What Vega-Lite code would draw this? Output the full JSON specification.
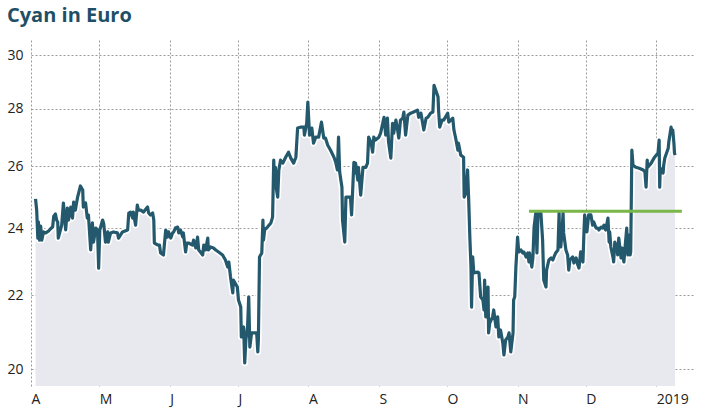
{
  "$schema": "https://vega.github.io/schema/vega-lite/v6.json",
  "width": 663,
  "height": 346,
  "padding": {"left": 6, "top": 6, "right": 10, "bottom": 4},
  "title": {"text": "Cyan in Euro", "anchor": "start", "frame": "bounds", "font": "Open Sans", "fontSize": 20, "fontWeight": "bold", "color": "#1f4f66", "offset": 14, "baseline": "top"},
  "config": {"view": {"stroke": null}, "font": "Open Sans"},
  "datasets": {
    "price": [
      {"t": "2018-04-03T00:00", "v": 24.92}, {"t": "2018-04-03T12:00", "v": 24.56}, {"t": "2018-04-04T00:00", "v": 23.69}, {"t": "2018-04-04T06:00", "v": 24.19},
      {"t": "2018-04-04T18:00", "v": 23.63}, {"t": "2018-04-05T06:00", "v": 24.06}, {"t": "2018-04-05T18:00", "v": 23.63}, {"t": "2018-04-06T12:00", "v": 23.88},
      {"t": "2018-04-07T12:00", "v": 23.85}, {"t": "2018-04-08T18:00", "v": 23.91}, {"t": "2018-04-09T12:00", "v": 23.97}, {"t": "2018-04-10T12:00", "v": 24.03},
      {"t": "2018-04-11T00:00", "v": 24.37}, {"t": "2018-04-11T18:00", "v": 24.44}, {"t": "2018-04-12T06:00", "v": 24.25}, {"t": "2018-04-12T18:00", "v": 24.19},
      {"t": "2018-04-13T00:00", "v": 23.69}, {"t": "2018-04-14T12:00", "v": 24.09}, {"t": "2018-04-15T06:00", "v": 24.79}, {"t": "2018-04-16T06:00", "v": 23.94},
      {"t": "2018-04-17T00:00", "v": 24.63}, {"t": "2018-04-17T12:00", "v": 24.25}, {"t": "2018-04-18T12:00", "v": 24.66}, {"t": "2018-04-19T06:00", "v": 24.31},
      {"t": "2018-04-19T18:00", "v": 24.82}, {"t": "2018-04-20T12:00", "v": 24.56}, {"t": "2018-04-21T12:00", "v": 24.98}, {"t": "2018-04-22T18:00", "v": 25.34},
      {"t": "2018-04-23T18:00", "v": 25.21}, {"t": "2018-04-24T00:00", "v": 24.66}, {"t": "2018-04-25T00:00", "v": 24.79}, {"t": "2018-04-25T18:00", "v": 24.31},
      {"t": "2018-04-26T06:00", "v": 24.41}, {"t": "2018-04-27T06:00", "v": 23.33}, {"t": "2018-04-28T00:00", "v": 24.16}, {"t": "2018-04-28T12:00", "v": 23.57},
      {"t": "2018-04-29T12:00", "v": 24.00}, {"t": "2018-04-30T06:00", "v": 23.94}, {"t": "2018-04-30T18:00", "v": 22.79}, {"t": "2018-05-01T06:00", "v": 23.94},
      {"t": "2018-05-02T12:00", "v": 24.25}, {"t": "2018-05-03T00:00", "v": 24.13}, {"t": "2018-05-03T18:00", "v": 23.57}, {"t": "2018-05-04T18:00", "v": 23.88},
      {"t": "2018-05-05T00:00", "v": 23.57}, {"t": "2018-05-06T00:00", "v": 23.85}, {"t": "2018-05-07T06:00", "v": 23.88}, {"t": "2018-05-09T00:00", "v": 23.85},
      {"t": "2018-05-09T12:00", "v": 23.69}, {"t": "2018-05-11T06:00", "v": 23.88}, {"t": "2018-05-13T12:00", "v": 23.94}, {"t": "2018-05-14T00:00", "v": 24.47},
      {"t": "2018-05-14T18:00", "v": 24.50}, {"t": "2018-05-15T18:00", "v": 24.31}, {"t": "2018-05-16T00:00", "v": 24.50}, {"t": "2018-05-17T00:00", "v": 24.09},
      {"t": "2018-05-17T18:00", "v": 24.72}, {"t": "2018-05-18T06:00", "v": 24.56}, {"t": "2018-05-19T06:00", "v": 24.56}, {"t": "2018-05-20T12:00", "v": 24.50},
      {"t": "2018-05-22T06:00", "v": 24.66}, {"t": "2018-05-22T18:00", "v": 24.47}, {"t": "2018-05-23T12:00", "v": 24.41}, {"t": "2018-05-24T12:00", "v": 24.47},
      {"t": "2018-05-25T00:00", "v": 24.25}, {"t": "2018-05-25T06:00", "v": 23.54}, {"t": "2018-05-26T18:00", "v": 23.48}, {"t": "2018-05-27T12:00", "v": 23.48},
      {"t": "2018-05-28T00:00", "v": 23.24}, {"t": "2018-05-29T06:00", "v": 23.18}, {"t": "2018-05-30T06:00", "v": 23.94}, {"t": "2018-05-31T00:00", "v": 23.72},
      {"t": "2018-05-31T12:00", "v": 23.88}, {"t": "2018-06-01T12:00", "v": 23.69}, {"t": "2018-06-02T06:00", "v": 23.85}, {"t": "2018-06-02T18:00", "v": 23.88},
      {"t": "2018-06-03T12:00", "v": 24.00}, {"t": "2018-06-04T12:00", "v": 24.03}, {"t": "2018-06-05T00:00", "v": 23.85}, {"t": "2018-06-05T18:00", "v": 23.94},
      {"t": "2018-06-06T18:00", "v": 23.72}, {"t": "2018-06-07T00:00", "v": 23.85}, {"t": "2018-06-08T00:00", "v": 23.27}, {"t": "2018-06-08T12:00", "v": 23.54},
      {"t": "2018-06-09T06:00", "v": 23.54}, {"t": "2018-06-11T00:00", "v": 23.48}, {"t": "2018-06-11T12:00", "v": 23.63}, {"t": "2018-06-12T12:00", "v": 23.39},
      {"t": "2018-06-13T06:00", "v": 23.72}, {"t": "2018-06-13T18:00", "v": 23.33}, {"t": "2018-06-14T12:00", "v": 23.27}, {"t": "2018-06-15T12:00", "v": 23.18},
      {"t": "2018-06-16T00:00", "v": 23.48}, {"t": "2018-06-16T18:00", "v": 23.33}, {"t": "2018-06-17T18:00", "v": 23.69}, {"t": "2018-06-18T00:00", "v": 23.33},
      {"t": "2018-06-19T00:00", "v": 23.42}, {"t": "2018-06-20T06:00", "v": 23.39}, {"t": "2018-06-21T06:00", "v": 23.33}, {"t": "2018-06-22T12:00", "v": 23.27},
      {"t": "2018-06-24T06:00", "v": 23.18}, {"t": "2018-06-25T12:00", "v": 23.03}, {"t": "2018-06-26T12:00", "v": 22.82}, {"t": "2018-06-27T00:00", "v": 22.97},
      {"t": "2018-06-27T18:00", "v": 22.53}, {"t": "2018-06-28T18:00", "v": 22.07}, {"t": "2018-06-29T00:00", "v": 22.44}, {"t": "2018-06-30T18:00", "v": 22.24},
      {"t": "2018-07-01T06:00", "v": 21.87}, {"t": "2018-07-02T06:00", "v": 21.67}, {"t": "2018-07-02T12:00", "v": 20.85}, {"t": "2018-07-03T12:00", "v": 21.12},
      {"t": "2018-07-04T00:00", "v": 20.16}, {"t": "2018-07-04T12:00", "v": 20.77}, {"t": "2018-07-05T06:00", "v": 21.12}, {"t": "2018-07-05T18:00", "v": 21.96},
      {"t": "2018-07-06T06:00", "v": 20.58}, {"t": "2018-07-07T00:00", "v": 20.96}, {"t": "2018-07-08T00:00", "v": 20.96}, {"t": "2018-07-09T06:00", "v": 20.96},
      {"t": "2018-07-09T18:00", "v": 20.45}, {"t": "2018-07-10T00:00", "v": 20.77}, {"t": "2018-07-10T12:00", "v": 23.12}, {"t": "2018-07-11T12:00", "v": 23.24},
      {"t": "2018-07-12T00:00", "v": 24.25}, {"t": "2018-07-12T06:00", "v": 23.63}, {"t": "2018-07-12T18:00", "v": 23.94}, {"t": "2018-07-14T00:00", "v": 24.03},
      {"t": "2018-07-15T12:00", "v": 24.16}, {"t": "2018-07-16T06:00", "v": 24.34}, {"t": "2018-07-16T18:00", "v": 26.20}, {"t": "2018-07-17T06:00", "v": 25.30},
      {"t": "2018-07-17T12:00", "v": 25.96}, {"t": "2018-07-18T00:00", "v": 25.21}, {"t": "2018-07-18T12:00", "v": 24.98}, {"t": "2018-07-19T00:00", "v": 25.87},
      {"t": "2018-07-19T18:00", "v": 26.20}, {"t": "2018-07-20T18:00", "v": 26.10}, {"t": "2018-07-22T00:00", "v": 26.30}, {"t": "2018-07-23T06:00", "v": 26.47},
      {"t": "2018-07-24T06:00", "v": 26.27}, {"t": "2018-07-25T12:00", "v": 26.10}, {"t": "2018-07-26T12:00", "v": 26.30}, {"t": "2018-07-27T06:00", "v": 27.31},
      {"t": "2018-07-28T12:00", "v": 27.34}, {"t": "2018-07-30T00:00", "v": 27.34}, {"t": "2018-07-30T06:00", "v": 27.06}, {"t": "2018-07-31T06:00", "v": 27.48},
      {"t": "2018-07-31T18:00", "v": 28.24}, {"t": "2018-08-01T12:00", "v": 27.06}, {"t": "2018-08-02T12:00", "v": 27.31}, {"t": "2018-08-03T06:00", "v": 26.78},
      {"t": "2018-08-04T06:00", "v": 26.99}, {"t": "2018-08-05T12:00", "v": 26.99}, {"t": "2018-08-06T18:00", "v": 27.52}, {"t": "2018-08-07T18:00", "v": 26.96},
      {"t": "2018-08-08T12:00", "v": 26.96}, {"t": "2018-08-09T12:00", "v": 26.71}, {"t": "2018-08-10T18:00", "v": 26.54}, {"t": "2018-08-12T06:00", "v": 26.30},
      {"t": "2018-08-13T00:00", "v": 26.13}, {"t": "2018-08-13T18:00", "v": 25.87}, {"t": "2018-08-14T06:00", "v": 26.99}, {"t": "2018-08-14T18:00", "v": 25.80},
      {"t": "2018-08-15T18:00", "v": 25.30}, {"t": "2018-08-16T00:00", "v": 24.25}, {"t": "2018-08-17T00:00", "v": 23.57}, {"t": "2018-08-17T12:00", "v": 24.98},
      {"t": "2018-08-18T18:00", "v": 24.98}, {"t": "2018-08-19T12:00", "v": 24.98}, {"t": "2018-08-20T00:00", "v": 24.41}, {"t": "2018-08-21T00:00", "v": 26.13},
      {"t": "2018-08-21T06:00", "v": 25.77}, {"t": "2018-08-21T18:00", "v": 26.10}, {"t": "2018-08-22T18:00", "v": 25.53}, {"t": "2018-08-23T00:00", "v": 25.96},
      {"t": "2018-08-24T00:00", "v": 25.04}, {"t": "2018-08-25T00:00", "v": 25.96}, {"t": "2018-08-26T06:00", "v": 25.96}, {"t": "2018-08-27T00:00", "v": 26.10},
      {"t": "2018-08-27T12:00", "v": 26.99}, {"t": "2018-08-28T12:00", "v": 26.82}, {"t": "2018-08-29T06:00", "v": 26.47}, {"t": "2018-08-29T18:00", "v": 26.99},
      {"t": "2018-08-30T12:00", "v": 26.89}, {"t": "2018-09-01T00:00", "v": 26.99}, {"t": "2018-09-01T18:00", "v": 27.13}, {"t": "2018-09-03T06:00", "v": 27.69},
      {"t": "2018-09-04T00:00", "v": 27.06}, {"t": "2018-09-04T18:00", "v": 27.66}, {"t": "2018-09-05T06:00", "v": 26.82}, {"t": "2018-09-06T06:00", "v": 26.27},
      {"t": "2018-09-07T00:00", "v": 27.48}, {"t": "2018-09-07T12:00", "v": 27.13}, {"t": "2018-09-08T12:00", "v": 27.59}, {"t": "2018-09-09T06:00", "v": 27.24},
      {"t": "2018-09-09T18:00", "v": 26.96}, {"t": "2018-09-10T12:00", "v": 27.59}, {"t": "2018-09-11T12:00", "v": 27.66}, {"t": "2018-09-12T00:00", "v": 27.88},
      {"t": "2018-09-12T18:00", "v": 27.06}, {"t": "2018-09-13T18:00", "v": 27.77}, {"t": "2018-09-15T00:00", "v": 27.84}, {"t": "2018-09-16T06:00", "v": 27.88},
      {"t": "2018-09-18T00:00", "v": 27.95}, {"t": "2018-09-18T12:00", "v": 27.69}, {"t": "2018-09-19T12:00", "v": 27.84}, {"t": "2018-09-20T06:00", "v": 27.48},
      {"t": "2018-09-20T18:00", "v": 27.24}, {"t": "2018-09-21T18:00", "v": 27.66}, {"t": "2018-09-22T12:00", "v": 27.69}, {"t": "2018-09-23T18:00", "v": 27.84},
      {"t": "2018-09-24T18:00", "v": 27.88}, {"t": "2018-09-25T06:00", "v": 28.86}, {"t": "2018-09-26T00:00", "v": 28.68}, {"t": "2018-09-27T00:00", "v": 28.44},
      {"t": "2018-09-27T06:00", "v": 27.95}, {"t": "2018-09-27T18:00", "v": 27.34}, {"t": "2018-09-28T18:00", "v": 27.59}, {"t": "2018-09-29T12:00", "v": 27.59},
      {"t": "2018-10-01T06:00", "v": 27.84}, {"t": "2018-10-01T18:00", "v": 27.52}, {"t": "2018-10-03T12:00", "v": 27.66}, {"t": "2018-10-04T00:00", "v": 27.24},
      {"t": "2018-10-04T18:00", "v": 26.96}, {"t": "2018-10-05T18:00", "v": 26.54}, {"t": "2018-10-06T00:00", "v": 26.78}, {"t": "2018-10-07T00:00", "v": 26.37},
      {"t": "2018-10-08T06:00", "v": 26.30}, {"t": "2018-10-08T12:00", "v": 24.98}, {"t": "2018-10-09T06:00", "v": 25.11}, {"t": "2018-10-10T00:00", "v": 25.87},
      {"t": "2018-10-10T12:00", "v": 24.88}, {"t": "2018-10-11T00:00", "v": 23.72}, {"t": "2018-10-11T12:00", "v": 22.82}, {"t": "2018-10-11T18:00", "v": 21.67},
      {"t": "2018-10-12T06:00", "v": 23.12}, {"t": "2018-10-12T18:00", "v": 22.65}, {"t": "2018-10-14T12:00", "v": 22.67}, {"t": "2018-10-15T00:00", "v": 22.65},
      {"t": "2018-10-15T18:00", "v": 21.96}, {"t": "2018-10-16T18:00", "v": 21.87}, {"t": "2018-10-17T06:00", "v": 21.59}, {"t": "2018-10-17T12:00", "v": 22.44},
      {"t": "2018-10-18T00:00", "v": 21.40}, {"t": "2018-10-19T00:00", "v": 22.24}, {"t": "2018-10-19T06:00", "v": 20.96}, {"t": "2018-10-19T18:00", "v": 21.23},
      {"t": "2018-10-21T00:00", "v": 21.40}, {"t": "2018-10-21T12:00", "v": 21.59}, {"t": "2018-10-22T12:00", "v": 21.12}, {"t": "2018-10-23T06:00", "v": 21.40},
      {"t": "2018-10-23T18:00", "v": 20.85}, {"t": "2018-10-24T12:00", "v": 21.04}, {"t": "2018-10-25T12:00", "v": 20.69}, {"t": "2018-10-26T00:00", "v": 20.37},
      {"t": "2018-10-26T18:00", "v": 20.77}, {"t": "2018-10-27T18:00", "v": 20.85}, {"t": "2018-10-28T06:00", "v": 20.96}, {"t": "2018-10-29T00:00", "v": 20.45},
      {"t": "2018-10-30T00:00", "v": 20.96}, {"t": "2018-10-30T06:00", "v": 21.87}, {"t": "2018-10-30T18:00", "v": 21.96}, {"t": "2018-10-31T06:00", "v": 22.82},
      {"t": "2018-11-01T00:00", "v": 23.72}, {"t": "2018-11-01T12:00", "v": 23.27}, {"t": "2018-11-02T12:00", "v": 23.33}, {"t": "2018-11-03T06:00", "v": 23.24},
      {"t": "2018-11-03T18:00", "v": 23.27}, {"t": "2018-11-04T18:00", "v": 23.12}, {"t": "2018-11-05T12:00", "v": 23.24}, {"t": "2018-11-06T00:00", "v": 22.97},
      {"t": "2018-11-06T06:00", "v": 23.24}, {"t": "2018-11-07T06:00", "v": 22.82}, {"t": "2018-11-07T18:00", "v": 23.12}, {"t": "2018-11-08T06:00", "v": 24.03},
      {"t": "2018-11-09T00:00", "v": 24.47}, {"t": "2018-11-09T12:00", "v": 23.24}, {"t": "2018-11-10T00:00", "v": 24.47}, {"t": "2018-11-11T06:00", "v": 24.47},
      {"t": "2018-11-12T00:00", "v": 23.63}, {"t": "2018-11-12T12:00", "v": 22.44}, {"t": "2018-11-13T12:00", "v": 22.24}, {"t": "2018-11-13T18:00", "v": 22.73},
      {"t": "2018-11-14T18:00", "v": 23.03}, {"t": "2018-11-15T18:00", "v": 23.09}, {"t": "2018-11-16T12:00", "v": 23.03}, {"t": "2018-11-17T00:00", "v": 23.12},
      {"t": "2018-11-17T18:00", "v": 23.24}, {"t": "2018-11-18T18:00", "v": 23.33}, {"t": "2018-11-19T06:00", "v": 24.47}, {"t": "2018-11-19T12:00", "v": 23.54},
      {"t": "2018-11-20T00:00", "v": 23.42}, {"t": "2018-11-20T12:00", "v": 23.85}, {"t": "2018-11-21T00:00", "v": 24.47}, {"t": "2018-11-21T06:00", "v": 23.85},
      {"t": "2018-11-22T06:00", "v": 23.33}, {"t": "2018-11-23T00:00", "v": 23.18}, {"t": "2018-11-23T12:00", "v": 22.73}, {"t": "2018-11-24T00:00", "v": 23.03},
      {"t": "2018-11-25T06:00", "v": 23.12}, {"t": "2018-11-25T18:00", "v": 22.94}, {"t": "2018-11-26T18:00", "v": 23.09}, {"t": "2018-11-27T12:00", "v": 22.88},
      {"t": "2018-11-28T00:00", "v": 22.79}, {"t": "2018-11-28T18:00", "v": 23.27}, {"t": "2018-11-29T18:00", "v": 22.97}, {"t": "2018-11-30T06:00", "v": 24.00},
      {"t": "2018-11-30T12:00", "v": 24.41}, {"t": "2018-12-01T12:00", "v": 23.88}, {"t": "2018-12-02T06:00", "v": 24.41}, {"t": "2018-12-03T06:00", "v": 24.41},
      {"t": "2018-12-04T00:00", "v": 24.09}, {"t": "2018-12-04T12:00", "v": 24.19}, {"t": "2018-12-05T12:00", "v": 24.00}, {"t": "2018-12-06T06:00", "v": 24.00},
      {"t": "2018-12-06T18:00", "v": 23.94}, {"t": "2018-12-07T18:00", "v": 24.03}, {"t": "2018-12-08T12:00", "v": 24.00}, {"t": "2018-12-09T00:00", "v": 24.09},
      {"t": "2018-12-09T18:00", "v": 23.94}, {"t": "2018-12-10T18:00", "v": 24.31}, {"t": "2018-12-11T06:00", "v": 23.57}, {"t": "2018-12-11T12:00", "v": 23.88},
      {"t": "2018-12-12T00:00", "v": 23.42}, {"t": "2018-12-13T00:00", "v": 23.09}, {"t": "2018-12-13T06:00", "v": 22.97}, {"t": "2018-12-13T18:00", "v": 23.57},
      {"t": "2018-12-14T18:00", "v": 23.39}, {"t": "2018-12-15T00:00", "v": 23.18}, {"t": "2018-12-15T12:00", "v": 23.69}, {"t": "2018-12-16T12:00", "v": 23.09},
      {"t": "2018-12-17T00:00", "v": 23.39}, {"t": "2018-12-17T06:00", "v": 23.18}, {"t": "2018-12-17T18:00", "v": 22.97}, {"t": "2018-12-18T06:00", "v": 23.39},
      {"t": "2018-12-19T00:00", "v": 24.00}, {"t": "2018-12-19T12:00", "v": 23.18}, {"t": "2018-12-20T00:00", "v": 23.78}, {"t": "2018-12-20T12:00", "v": 23.18},
      {"t": "2018-12-20T18:00", "v": 23.27}, {"t": "2018-12-21T06:00", "v": 26.54}, {"t": "2018-12-21T18:00", "v": 26.03}, {"t": "2018-12-23T00:00", "v": 25.96},
      {"t": "2018-12-24T12:00", "v": 25.93}, {"t": "2018-12-26T06:00", "v": 25.87}, {"t": "2018-12-27T00:00", "v": 25.80}, {"t": "2018-12-27T12:00", "v": 25.30},
      {"t": "2018-12-28T00:00", "v": 26.20}, {"t": "2018-12-28T06:00", "v": 25.96}, {"t": "2018-12-29T18:00", "v": 26.10}, {"t": "2018-12-31T00:00", "v": 26.27},
      {"t": "2019-01-01T18:00", "v": 26.44}, {"t": "2019-01-02T06:00", "v": 26.89}, {"t": "2019-01-02T12:00", "v": 25.30}, {"t": "2019-01-02T18:00", "v": 25.93},
      {"t": "2019-01-03T00:00", "v": 25.80}, {"t": "2019-01-04T00:00", "v": 25.77}, {"t": "2019-01-04T06:00", "v": 26.03}, {"t": "2019-01-04T18:00", "v": 26.27},
      {"t": "2019-01-06T06:00", "v": 26.61}, {"t": "2019-01-06T12:00", "v": 26.82}, {"t": "2019-01-07T12:00", "v": 27.34}, {"t": "2019-01-08T00:00", "v": 27.13},
      {"t": "2019-01-08T06:00", "v": 27.24}, {"t": "2019-01-08T18:00", "v": 26.78}, {"t": "2019-01-09T00:00", "v": 26.44}, {"t": "2019-01-09T06:00", "v": 26.37}
    ],
    "target": [
      {"start": "2018-11-06T00:00", "end": "2019-01-12T06:00", "level": 24.53}
    ]
  },
  "encoding": {
    "x": {
      "field": "t", "type": "temporal", "title": null,
      "scale": {"domain": [{"year": 2018, "month": "apr", "date": 1}, {"year": 2019, "month": "jan", "date": 17, "hours": 14}], "nice": false},
      "axis": {
        "tickCount": {"interval": "month", "step": 1},
        "labelExpr": "month(datum.value) == 0 ? timeFormat(datum.value, '%Y') : slice(timeFormat(datum.value, '%b'), 0, 1)",
        "labelAlign": "left", "labelPadding": 6, "labelFontSize": 14, "labelColor": "#222222", "labelFont": "Open Sans",
        "labelFlush": false, "labelOverlap": false,
        "domain": false, "ticks": false, "tickSize": 0,
        "grid": true, "gridDash": [2, 2], "gridColor": "#9a9a9a", "gridWidth": 1
      }
    }
  },
  "layer": [
    {
      "data": {"name": "price"},
      "mark": {"type": "area", "color": "#e8e9ee", "opacity": 1},
      "encoding": {
        "y": {"field": "v", "type": "quantitative", "title": null,
          "scale": {"type": "log", "domain": [19.57, 30.6], "nice": false, "zero": false},
          "axis": {"values": [20, 22, 24, 26, 28, 30], "domain": false, "ticks": false, "tickSize": 0, "labelPadding": 8, "labelFontSize": 14, "labelColor": "#222222", "labelFont": "Open Sans",
            "grid": true, "gridDash": [2, 2], "gridColor": "#9a9a9a", "gridWidth": 1}},
        "y2": {"datum": 19.57}
      }
    },
    {
      "data": {"name": "price"},
      "mark": {"type": "line", "color": "#ffffff", "strokeWidth": 6.5, "strokeJoin": "round"},
      "encoding": {"y": {"field": "v", "type": "quantitative"}}
    },
    {
      "data": {"name": "price"},
      "mark": {"type": "line", "color": "#24596d", "strokeWidth": 3.2, "strokeJoin": "round"},
      "encoding": {"y": {"field": "v", "type": "quantitative"}}
    },
    {
      "data": {"name": "target"},
      "mark": {"type": "rule", "color": "#7ab648", "strokeWidth": 3},
      "encoding": {
        "x": {"field": "start", "type": "temporal"},
        "x2": {"field": "end"},
        "y": {"field": "level", "type": "quantitative"}
      }
    }
  ]
}
